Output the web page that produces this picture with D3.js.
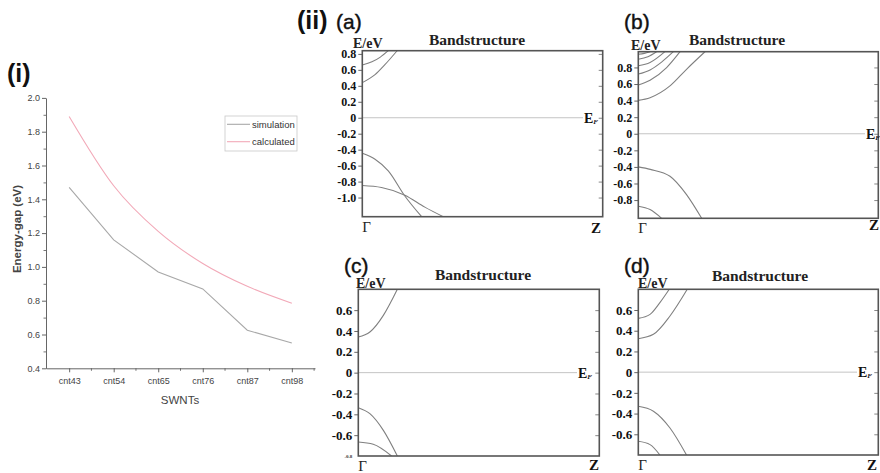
<!DOCTYPE html>
<html>
<head>
<meta charset="utf-8">
<title>SWNT energy gap and bandstructure</title>
<style>
body { margin:0; background:#fff; }
svg { display:block; }
.sans { font-family: "Liberation Sans", Arial, sans-serif; }
.serif { font-family: "Liberation Serif", "Times New Roman", serif; font-weight: bold; }
</style>
<script src="https://d3js.org/d3.v7.min.js"></script>
</head>
<body>
<div id="chart"></div>
<script>
// ---- (i) energy gap per tube ----
var swnts = ["cnt43", "cnt54", "cnt65", "cnt76", "cnt87", "cnt98"];
var simulation = [1.47, 1.16, 0.97, 0.87, 0.625, 0.55];
var calculated = [1.89, 1.48, 1.21, 1.02, 0.885, 0.785];
var gapTicks = [0.4, 0.6, 0.8, 1.0, 1.2, 1.4, 1.6, 1.8, 2.0];
var gapMinor = [0.5, 0.7, 0.9, 1.1, 1.3, 1.5, 1.7, 1.9];

// ---- (ii) band structures, points are [k, E] with k from Gamma (0) to Z (1) ----
var bandsA = [
  [[0, 0.66], [0.04, 0.70], [0.075, 0.76], [0.108, 0.84]],
  [[0, 0.44], [0.053, 0.54], [0.094, 0.665], [0.145, 0.84]],
  [[0, -0.445], [0.053, -0.52], [0.108, -0.665], [0.177, -0.98], [0.247, -1.24]],
  [[0, -0.85], [0.08, -0.875], [0.177, -0.97], [0.26, -1.12], [0.337, -1.24]]
];
var bandsB = [
  [[0, 0.959], [0.025, 0.97], [0.049, 0.99]],
  [[0, 0.899], [0.04, 0.93], [0.076, 0.99]],
  [[0, 0.82], [0.049, 0.859], [0.111, 0.99]],
  [[0, 0.72], [0.049, 0.77], [0.097, 0.865], [0.146, 0.99]],
  [[0, 0.589], [0.049, 0.645], [0.118, 0.798], [0.174, 0.99]],
  [[0, 0.403], [0.049, 0.435], [0.132, 0.577], [0.201, 0.778], [0.278, 0.99]],
  [[0, -0.40], [0.05, -0.43], [0.132, -0.512], [0.201, -0.734], [0.264, -1.02]],
  [[0, -0.875], [0.049, -0.915], [0.097, -1.02]]
];
var bandsC = [
  [[0, 0.342], [0.048, 0.39], [0.104, 0.55], [0.162, 0.80]],
  [[0, -0.336], [0.048, -0.394], [0.104, -0.554], [0.162, -0.80]],
  [[0, -0.666], [0.062, -0.688], [0.138, -0.80]]
];
var bandsD = [
  [[0, 0.519], [0.049, 0.558], [0.09, 0.671], [0.129, 0.80]],
  [[0, 0.323], [0.063, 0.365], [0.132, 0.542], [0.204, 0.80]],
  [[0, -0.329], [0.063, -0.377], [0.132, -0.539], [0.201, -0.80]],
  [[0, -0.668], [0.049, -0.70], [0.09, -0.80]]
];
var ticksA = [0.8, 0.6, 0.4, 0.2, 0, -0.2, -0.4, -0.6, -0.8, -1.0];
var ticksB = [0.8, 0.6, 0.4, 0.2, 0, -0.2, -0.4, -0.6, -0.8];
var ticksCD = [0.6, 0.4, 0.2, 0, -0.2, -0.4, -0.6];

var svg = d3.select("#chart").append("svg")
    .attr("width", 880)
    .attr("height", 473);
svg.append("rect").attr("width", 880).attr("height", 473).attr("fill", "#fff");

// ================= panel (i) =================
var gx = d3.scalePoint().domain(swnts).range([46, 315]).padding(0.52);
var gy = d3.scaleLinear().domain([0.4, 2.0]).range([368.3, 97.9]);

svg.append("text").attr("class", "sans")
    .attr("x", 7).attr("y", 82)
    .attr("font-size", 25).attr("font-weight", "bold").attr("fill", "#111")
    .text("(i)");

var yAx = svg.append("g").attr("class", "sans")
    .attr("transform", "translate(46,0)")
    .call(d3.axisLeft(gy).tickValues(gapTicks).tickFormat(d3.format(".1f"))
        .tickSize(4).tickSizeOuter(0).tickPadding(2));
svg.append("g").attr("transform", "translate(46,0)")
    .call(d3.axisLeft(gy).tickValues(gapMinor).tickFormat("").tickSize(2.5).tickSizeOuter(0))
    .call(function(a) {
      a.select(".domain").remove();
      a.selectAll("line").attr("stroke", "#555").attr("stroke-width", 0.8);
    });

var xAx = svg.append("g").attr("class", "sans")
    .attr("transform", "translate(0,368.3)")
    .call(d3.axisBottom(gx).tickSize(4).tickSizeOuter(0).tickPadding(5));
var mids = d3.pairs(swnts).map(function(p) { return (gx(p[0]) + gx(p[1])) / 2; });
mids.push(gx(swnts[5]) + (gx(swnts[5]) - mids[4]));
svg.selectAll(".xminor").data(mids).enter().append("line")
    .attr("class", "xminor")
    .attr("x1", function(d) { return d; }).attr("x2", function(d) { return d; })
    .attr("y1", 368.3).attr("y2", 370.8)
    .attr("stroke", "#555").attr("stroke-width", 0.8);

[yAx, xAx].forEach(function(a) {
  a.selectAll("path, line").attr("stroke", "#555").attr("stroke-width", 0.9);
  a.selectAll("text").attr("font-size", 9).attr("fill", "#444");
});

svg.append("text").attr("class", "sans")
    .attr("x", 180).attr("y", 404)
    .attr("text-anchor", "middle").attr("font-size", 11.5).attr("fill", "#444")
    .text("SWNTs");
svg.append("text").attr("class", "sans")
    .attr("transform", "translate(20.5,229) rotate(-90)")
    .attr("text-anchor", "middle").attr("font-size", 11.5)
    .attr("font-weight", "bold").attr("fill", "#444")
    .text("Energy-gap (eV)");

var gapLine = d3.line()
    .x(function(d, i) { return gx(swnts[i]); })
    .y(function(d) { return gy(d); });
svg.append("path").datum(simulation)
    .attr("d", gapLine)
    .attr("fill", "none").attr("stroke", "#a8a8a8").attr("stroke-width", 1.1);
svg.append("path").datum(calculated)
    .attr("d", gapLine.curve(d3.curveMonotoneX))
    .attr("fill", "none").attr("stroke", "#f2a9b8").attr("stroke-width", 1.1);

// legend
var leg = svg.append("g").attr("class", "sans");
leg.append("rect").attr("x", 225).attr("y", 116).attr("width", 72).attr("height", 35)
    .attr("fill", "#fff").attr("stroke", "#c8c8c8").attr("stroke-width", 0.8);
[["simulation", "#a8a8a8", 124.3], ["calculated", "#f2a9b8", 141.7]].forEach(function(s) {
  leg.append("line").attr("x1", 227).attr("x2", 250).attr("y1", s[2]).attr("y2", s[2])
      .attr("stroke", s[1]).attr("stroke-width", 1.1);
  leg.append("text").attr("x", 252).attr("y", s[2] + 3.5)
      .attr("font-size", 9.5).attr("fill", "#333").text(s[0]);
});

svg.append("text").attr("class", "sans")
    .attr("x", 297).attr("y", 29)
    .attr("font-size", 25).attr("font-weight", "bold").attr("fill", "#111")
    .text("(ii)");

// ================= panels (a)-(d) =================
var panels = [
  {tag: "(a)", bands: bandsA, ticks: ticksA, domain: [-1.24, 0.84],
   x0: 362.3, x1: 602.7, y0: 50.7, y1: 216.7,
   tagX: 336, tagY: 29, titleX: 477, titleY: 45, unitX: 353, unitY: 48, efX: 584, zX: 591, zY: 233},
  {tag: "(b)", bands: bandsB, ticks: ticksB, domain: [-1.02, 0.99],
   x0: 638.3, x1: 878.3, y0: 51.7, y1: 218.3,
   tagX: 624, tagY: 29, titleX: 737, titleY: 45, unitX: 631, unitY: 49.5, efX: 866, zX: 869, zY: 230},
  {tag: "(c)", bands: bandsC, ticks: ticksCD, domain: [-0.80, 0.80],
   x0: 358.3, x1: 599.3, y0: 289.3, y1: 456,
   tagX: 344, tagY: 273, titleX: 483, titleY: 280, unitX: 356, unitY: 288, efX: 578, zX: 589, zY: 470},
  {tag: "(d)", bands: bandsD, ticks: ticksCD, domain: [-0.80, 0.80],
   x0: 638.3, x1: 878.3, y0: 289.3, y1: 455,
   tagX: 624, tagY: 273, titleX: 760, titleY: 281, unitX: 638, unitY: 288, efX: 858, zX: 867, zY: 470}
];

var tickFmt = function(d) { return d === 0 ? "0" : d.toFixed(1); };

panels.forEach(function(p, i) {
  var kx = d3.scaleLinear().domain([0, 1]).range([p.x0, p.x1]);
  var ey = d3.scaleLinear().domain(p.domain).range([p.y1, p.y0]);
  var g = svg.append("g");

  g.append("clipPath").attr("id", "clip" + i)
    .append("rect").attr("x", p.x0).attr("y", p.y0)
    .attr("width", p.x1 - p.x0).attr("height", p.y1 - p.y0);

  // Fermi level
  g.append("line")
      .attr("x1", p.x0).attr("x2", p.efX - 1)
      .attr("y1", ey(0)).attr("y2", ey(0))
      .attr("stroke", "#c4c4c4").attr("stroke-width", 1);

  var band = d3.line()
      .x(function(d) { return kx(d[0]); })
      .y(function(d) { return ey(d[1]); })
      .curve(d3.curveMonotoneX);
  g.append("g").attr("clip-path", "url(#clip" + i + ")")
    .selectAll("path").data(p.bands).enter().append("path")
      .attr("d", band)
      .attr("fill", "none").attr("stroke", "#808080").attr("stroke-width", 1.1);

  var left = g.append("g").attr("class", "serif")
      .attr("transform", "translate(" + p.x0 + ",0)")
      .call(d3.axisLeft(ey).tickValues(p.ticks).tickFormat(tickFmt)
          .tickSize(4).tickSizeOuter(0).tickPadding(2));
  left.select(".domain").remove();
  left.selectAll("line").attr("stroke", "#666");
  left.selectAll("text").attr("font-size", i < 2 ? 12 : 13).attr("fill", "#111");

  var right = g.append("g")
      .attr("transform", "translate(" + p.x1 + ",0)")
      .call(d3.axisLeft(ey).tickValues(p.ticks).tickFormat("").tickSize(4).tickSizeOuter(0));
  right.select(".domain").remove();
  right.selectAll("line").attr("stroke", "#888");

  g.append("rect")
      .attr("x", p.x0).attr("y", p.y0)
      .attr("width", p.x1 - p.x0).attr("height", p.y1 - p.y0)
      .attr("fill", "none").attr("stroke", "#555").attr("stroke-width", 1.6);

  if (p.tag === "(c)") {
    g.append("text").attr("class", "serif")
        .attr("x", p.x0 - 6).attr("y", ey(-0.8) + 2)
        .attr("text-anchor", "end").attr("font-size", 5).attr("fill", "#333")
        .text("-0.8");
  }

  g.append("text").attr("class", "sans")
      .attr("x", p.tagX).attr("y", p.tagY)
      .attr("font-size", 21).attr("fill", "#111")
      .attr("stroke", "#111").attr("stroke-width", 0.4)
      .text(p.tag);
  g.append("text").attr("class", "serif")
      .attr("x", p.titleX).attr("y", p.titleY)
      .attr("text-anchor", "middle").attr("font-size", 15.5).attr("fill", "#222")
      .text("Bandstructure");
  g.append("text").attr("class", "serif")
      .attr("x", p.unitX).attr("y", p.unitY)
      .attr("font-size", 14).attr("fill", "#222")
      .text("E/eV");

  var ef = g.append("text").attr("class", "serif")
      .attr("x", p.efX).attr("y", ey(0) + 5)
      .attr("font-size", 14).attr("fill", "#111");
  ef.append("tspan").text("E");
  ef.append("tspan").attr("font-size", 7).attr("font-style", "italic")
      .attr("dy", 1).text("F");

  g.append("text").attr("class", "serif")
      .attr("x", p.zX).attr("y", p.zY)
      .attr("font-size", 15).attr("fill", "#111")
      .text("Z");
  g.append("text")
      .attr("x", p.x0).attr("y", p.y1 + 15)
      .attr("font-family", "'Liberation Serif', serif")
      .attr("font-size", 15).attr("fill", "#222")
      .text("\u0393");
});
</script>
</body>
</html>
